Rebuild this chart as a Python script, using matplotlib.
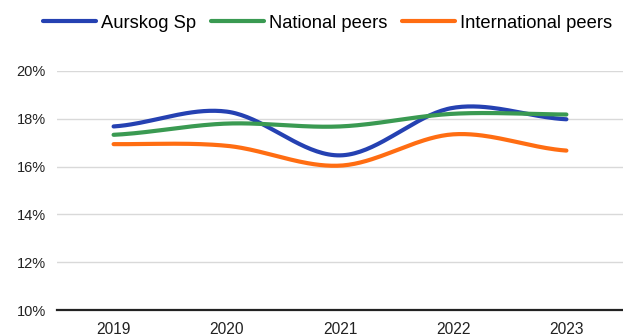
import numpy as np
import matplotlib
matplotlib.use('Agg')
import matplotlib.pyplot as plt
from matplotlib.ticker import FuncFormatter

plt.rcParams['font.family'] = ['Liberation Sans', 'DejaVu Sans']

# Data
years = ['2019', '2020', '2021', '2022', '2023']
aurskog = [17.68, 18.30, 16.47, 18.46, 17.98]
national = [17.33, 17.80, 17.68, 18.21, 18.18]
international = [16.94, 16.87, 16.04, 17.35, 16.67]

series_names = ['Aurskog Sp', 'National peers', 'International peers']
colors = ['#2541b2', '#3a9a52', '#ff6d12']


def smooth(xs, ys, n=40):
    # cardinal (Catmull-Rom) spline through the points, for the curved look
    xs = np.asarray(xs, float)
    ys = np.asarray(ys, float)
    px = np.concatenate([[2 * xs[0] - xs[1]], xs, [2 * xs[-1] - xs[-2]]])
    py = np.concatenate([[ys[0]], ys, [ys[-1]]])
    out_x, out_y = [], []
    for i in range(1, len(px) - 2):
        t = np.linspace(0, 1, n)
        p0, p1, p2, p3 = py[i - 1], py[i], py[i + 1], py[i + 2]
        m1 = 0.5 * (p2 - p0)
        m2 = 0.5 * (p3 - p1)
        h00 = 2 * t**3 - 3 * t**2 + 1
        h10 = t**3 - 2 * t**2 + t
        h01 = -2 * t**3 + 3 * t**2
        h11 = t**3 - t**2
        out_y.append(h00 * p1 + h10 * m1 + h01 * p2 + h11 * m2)
        out_x.append(px[i] + t * (px[i + 1] - px[i]))
    return np.concatenate(out_x), np.concatenate(out_y)


fig = plt.figure(figsize=(6.23, 3.36), dpi=100)
ax = fig.add_axes([57 / 623, 1 - 310 / 336, 566 / 623, 239 / 336])

x = np.arange(len(years))
for vals, name, col in zip([aurskog, national, international], series_names, colors):
    sx, sy = smooth(x, vals)
    ax.plot(sx, sy, color=col, linewidth=3.0, solid_capstyle='round', label=name)

ax.set_xlim(-0.5, len(years) - 0.5)
ax.set_ylim(10, 20)
ax.set_yticks([10, 12, 14, 16, 18, 20])
ax.yaxis.set_major_formatter(FuncFormatter(lambda v, p: f'{v:.0f}%'))
ax.set_xticks(x)
ax.set_xticklabels(years)
ax.grid(axis='y', color='#d9d9d9', linewidth=1.0)
ax.set_axisbelow(True)
for s in ['top', 'right', 'left']:
    ax.spines[s].set_visible(False)
ax.spines['bottom'].set_color('#222222')
ax.spines['bottom'].set_linewidth(1.6)
ax.tick_params(axis='both', length=0, labelsize=10.5, colors='#222222')
ax.tick_params(axis='x', labelsize=11.2, pad=9)
ax.tick_params(axis='y', pad=8)

fig.legend(loc='center', bbox_to_anchor=(0.526, 1 - 23 / 336), ncol=3, frameon=False,
           fontsize=13.2, handlelength=2.9, handletextpad=0.27, columnspacing=0.8,
           borderaxespad=0, borderpad=0)

fig.savefig('out.png', dpi=100)
